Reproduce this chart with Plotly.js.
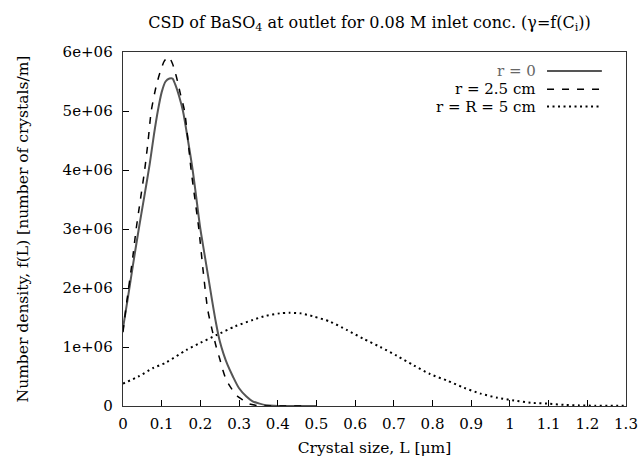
<!DOCTYPE html>
<html>
<head>
<meta charset="utf-8">
<script src="https://cdn.plot.ly/plotly-3.0.1.min.js"></script>
<style>html,body{margin:0;padding:0;background:#fff;}#chart{width:639px;height:465px;}</style>
</head>
<body>
<div id="chart"></div>
<script>
// ---- data ----
const seriesNames = ["r = 0", "r = 2.5 cm", "r = R = 5 cm"];

// r = 0 (solid)
const L_r0 = [0, 0.013, 0.026, 0.04, 0.055, 0.069, 0.08, 0.09, 0.1, 0.11, 0.12, 0.128, 0.135, 0.145, 0.155, 0.168, 0.18, 0.19, 0.2, 0.21, 0.22, 0.23, 0.24, 0.25, 0.26, 0.27, 0.284, 0.3, 0.319, 0.335, 0.353, 0.37, 0.39, 0.42, 0.46, 0.5];
const f_r0 = [1.32e6, 1.85e6, 2.4e6, 2.97e6, 3.55e6, 4.1e6, 4.6e6, 5.0e6, 5.32e6, 5.5e6, 5.55e6, 5.55e6, 5.45e6, 5.25e6, 5.0e6, 4.5e6, 4.0e6, 3.5e6, 3.0e6, 2.6e6, 2.2e6, 1.8e6, 1.42e6, 1.1e6, 0.88e6, 0.7e6, 0.5e6, 0.3e6, 0.16e6, 0.08e6, 0.04e6, 0.015e6, 0.004e6, 0, 0, 0];

// r = 2.5 cm (dashed)
const L_r25 = [0, 0.008, 0.026, 0.034, 0.045, 0.056, 0.065, 0.073, 0.085, 0.095, 0.107, 0.118, 0.128, 0.138, 0.148, 0.159, 0.168, 0.176, 0.186, 0.196, 0.207, 0.219, 0.23, 0.241, 0.25, 0.258, 0.267, 0.28, 0.295, 0.31, 0.32, 0.33, 0.35, 0.38, 0.42, 0.47];
const f_r25 = [1.25e6, 1.68e6, 2.56e6, 3.0e6, 3.5e6, 4.0e6, 4.5e6, 5.0e6, 5.4e6, 5.64e6, 5.85e6, 5.92e6, 5.8e6, 5.58e6, 5.3e6, 5.0e6, 4.5e6, 4.0e6, 3.5e6, 3.0e6, 2.3e6, 1.63e6, 1.3e6, 1.0e6, 0.8e6, 0.61e6, 0.44e6, 0.3e6, 0.17e6, 0.1e6, 0.05e6, 0.03e6, 0.005e6, 0, 0, 0];

// r = R = 5 cm (dotted)
const L_r5 = [0, 0.04, 0.077, 0.112, 0.164, 0.2, 0.241, 0.29, 0.336, 0.37, 0.405, 0.43, 0.46, 0.491, 0.535, 0.578, 0.621, 0.665, 0.708, 0.751, 0.794, 0.838, 0.881, 0.924, 0.968, 1.011, 1.054, 1.097, 1.14, 1.18, 1.22, 1.26, 1.3];
const f_r5 = [0.38e6, 0.5e6, 0.64e6, 0.74e6, 0.95e6, 1.07e6, 1.2e6, 1.35e6, 1.46e6, 1.53e6, 1.57e6, 1.58e6, 1.57e6, 1.52e6, 1.43e6, 1.29e6, 1.14e6, 1.0e6, 0.85e6, 0.69e6, 0.54e6, 0.43e6, 0.31e6, 0.21e6, 0.14e6, 0.093e6, 0.054e6, 0.04e6, 0.02e6, 0.01e6, 0.005e6, 0.003e6, 0.002e6];

const xTickVals = [0, 0.1, 0.2, 0.3, 0.4, 0.5, 0.6, 0.7, 0.8, 0.9, 1, 1.1, 1.2, 1.3];
const xTickText = ["0", "0.1", "0.2", "0.3", "0.4", "0.5", "0.6", "0.7", "0.8", "0.9", "1", "1.1", "1.2", "1.3"];
const yTickVals = [0, 1e6, 2e6, 3e6, 4e6, 5e6, 6e6];
const yTickText = ["0", "1e+06", "2e+06", "3e+06", "4e+06", "5e+06", "6e+06"];

// ---- styles ----
const FONT = "'DejaVu Serif', 'Liberation Serif', serif";
const FS = 15;
const styles = [
  {color: "#555555", width: 2, dash: "solid"},
  {color: "#000000", width: 1.5, dash: "7px,8px"},
  {color: "#000000", width: 2, dash: "2px,3.5px"}
];
const xs = [L_r0, L_r25, L_r5];
const ys = [f_r0, f_r25, f_r5];

const traces = xs.map((x, i) => ({
  x: x, y: ys[i], type: "scatter", mode: "lines", name: seriesNames[i],
  line: Object.assign({shape: "spline", smoothing: 0.7}, styles[i]),
  showlegend: false, hoverinfo: "skip"
}));

// gnuplot-style key (text right-aligned, sample line to its right)
const keyRowsY = [0.946, 0.895, 0.846];
const keyTextX = 0.825, keyLineX0 = 0.843, keyLineX1 = 0.952;
const annotations = seriesNames.map((n, i) => ({
  text: n, xref: "paper", yref: "paper", x: keyTextX, y: keyRowsY[i],
  xanchor: "right", yanchor: "middle", showarrow: false,
  font: {family: FONT, size: FS, color: i === 0 ? "#666666" : "#000000"}
}));
const shapes = seriesNames.map((n, i) => ({
  type: "line", xref: "paper", yref: "paper",
  x0: keyLineX0, x1: keyLineX1, y0: keyRowsY[i], y1: keyRowsY[i],
  line: {color: styles[i].color, width: styles[i].width, dash: styles[i].dash}
}));

const layout = {
  width: 639, height: 465,
  margin: {l: 123, r: 13, t: 52, b: 59},
  paper_bgcolor: "#ffffff", plot_bgcolor: "#ffffff",
  font: {family: FONT, size: FS, color: "#000"},
  title: {
    text: "CSD of BaSO<sub>4</sub> at outlet for 0.08 M inlet conc. (γ=f(C<sub>i</sub>))",
    font: {family: FONT, size: 16, color: "#000"},
    xref: "paper", x: 0.49, xanchor: "center",
    yref: "container", y: 1 - 22 / 465, yanchor: "middle"
  },
  xaxis: {
    range: [0, 1.3], tickvals: xTickVals, ticktext: xTickText,
    ticks: "inside", ticklen: 6, tickcolor: "#000", tickwidth: 1,
    showline: true, linecolor: "#333", linewidth: 1.3, mirror: true,
    showgrid: false, zeroline: false, ticklabelstandoff: 4,
    tickfont: {family: FONT, size: FS},
    title: {text: "Crystal size, L [μm]", font: {family: FONT, size: 15.5}, standoff: 10}
  },
  yaxis: {
    range: [0, 6e6], tickvals: yTickVals, ticktext: yTickText,
    ticks: "inside", ticklen: 6, tickcolor: "#000", tickwidth: 1,
    showline: true, linecolor: "#333", linewidth: 1.3, mirror: true,
    showgrid: false, zeroline: false, ticklabelstandoff: 6,
    tickfont: {family: FONT, size: FS},
    title: {text: "Number density, f(L) [number of crystals/m]", font: {family: FONT, size: 15.5}, standoff: 30}
  },
  annotations: annotations,
  shapes: shapes
};

Plotly.newPlot("chart", traces, layout, {staticPlot: true, displayModeBar: false});
</script>
</body>
</html>
